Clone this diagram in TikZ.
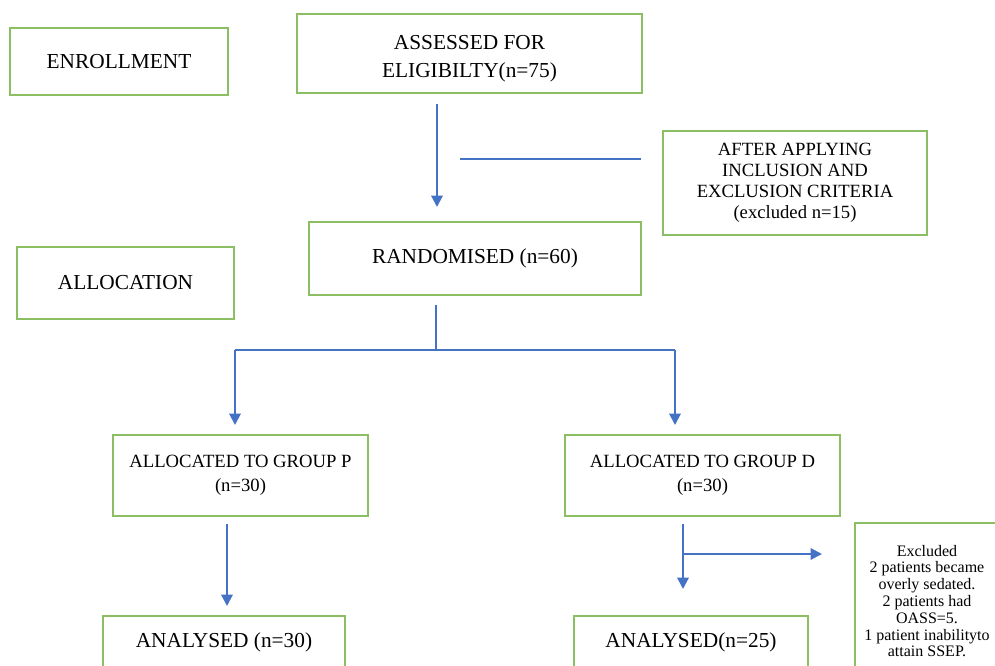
\documentclass[tikz,border=0pt]{standalone}
\usepackage{fontspec}
\setmainfont{Liberation Serif}
\usetikzlibrary{arrows.meta}
\definecolor{boxgreen}{RGB}{140,190,100}
\definecolor{arrowblue}{RGB}{68,114,196}
\begin{document}
\begin{tikzpicture}[x=0.75pt,y=-0.75pt,
  box/.style={draw=boxgreen, line width=1.5pt, fill=white, inner sep=0pt, align=center},
  big/.style={font=\fontsize{16}{21}\selectfont},
  mid/.style={font=\fontsize{14}{15.75}\selectfont},
  alloc/.style={font=\fontsize{14}{18}\selectfont},
  small/.style={font=\fontsize{12}{12.6}\selectfont},
  link/.style={draw=arrowblue, line width=1.5pt},
  arr/.style={link, -{Triangle[length=8.5pt,width=8.5pt]}}]
\useasboundingbox (0,0) rectangle (995,666);
\clip (0,0) rectangle (995,666);

% boxes
\node[box, big, minimum width=163.5pt, minimum height=50.25pt] (enroll) at (119,61.5) {ENROLLMENT};
\node[box, big, minimum width=258.75pt, minimum height=59.25pt] (assessed) at (469.5,53.5) {\rule{0pt}{18pt}ASSESSED FOR\\ELIGIBILTY(n=75)};
\node[box, mid, minimum width=198pt, minimum height=78pt] (after) at (795,183) {AFTER APPLYING\\INCLUSION AND\\EXCLUSION CRITERIA\\(excluded n=15)};
\node[box, big, minimum width=249pt, minimum height=54.75pt] (random) at (475,258.5) {RANDOMISED (n=60)};
\node[box, big, minimum width=162.75pt, minimum height=54pt] (allocation) at (125.5,283) {ALLOCATION};
\node[box, alloc, minimum width=191.25pt, minimum height=60.75pt] (groupP) at (240.5,475.5) {ALLOCATED TO GROUP P\\(n=30)};
\node[box, alloc, minimum width=206.25pt, minimum height=60.75pt] (groupD) at (702.5,475.5) {ALLOCATED TO GROUP D\\(n=30)};
\node[box, big, minimum width=181.5pt, minimum height=39pt] (anaP) at (224,642) {ANALYSED (n=30)};
\node[box, big, minimum width=175.5pt, minimum height=39pt] (anaD) at (691,642) {ANALYSED(n=25)};
\node[box, small, minimum width=108pt, minimum height=117pt] (excl) at (927,601) {Excluded\\2 patients became\\overly sedated.\\2 patients had\\OASS=5.\\1 patient inabilityto\\attain SSEP.};

% helper coordinates
\coordinate (c1) at (437,0);
\coordinate (hstart) at (460,159);
\coordinate (hend) at (641,159);
\coordinate (split) at (436,350);
\coordinate (leftdrop) at (235,350);
\coordinate (rightdrop) at (675,350);
\coordinate (cP) at (227,0);
\coordinate (cD) at (683,0);
\coordinate (dbranch) at (683,554);
\coordinate (dtip) at (822,554);

% connectors
\draw[arr, shorten <=7.5pt, shorten >=10.5pt] (assessed.south -| c1) -- (random.north -| c1);
\draw[link] (hstart) -- (hend);
\draw[link, shorten <=6.75pt] (random.south -| split) -- (split);
\draw[link] (leftdrop) -- (rightdrop);
\draw[arr, shorten >=6.75pt] (leftdrop) -- (groupP.north -| leftdrop);
\draw[arr, shorten >=6.75pt] (rightdrop) -- (groupD.north -| rightdrop);
\draw[arr, shorten <=5.25pt, shorten >=6.75pt] (groupP.south -| cP) -- (anaP.north -| cP);
\draw[arr, shorten <=5.25pt, shorten >=19.5pt] (groupD.south -| cD) -- (anaD.north -| cD);
\draw[arr] (dbranch) -- (dtip);
\end{tikzpicture}
\end{document}
